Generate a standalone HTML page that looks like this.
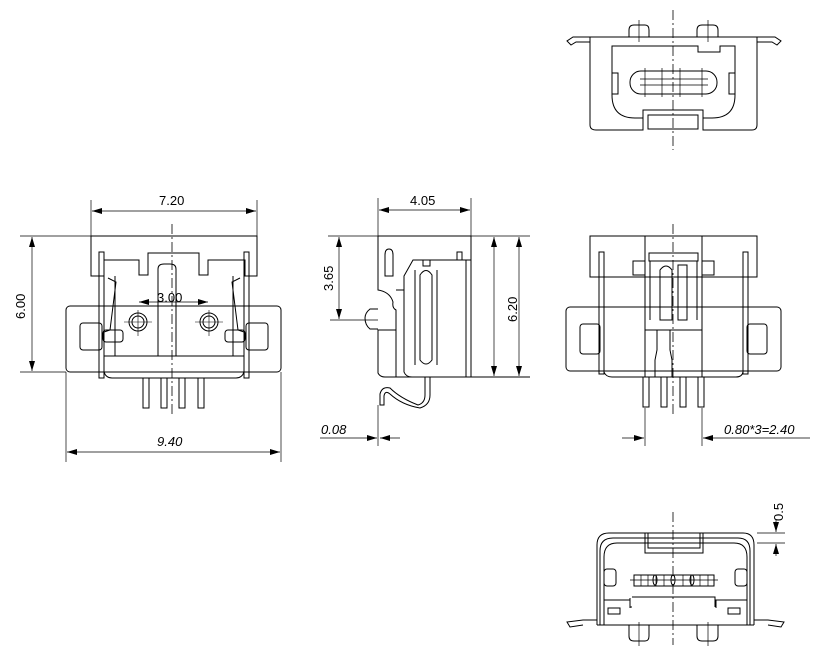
<!DOCTYPE html>
<html><head><meta charset="utf-8"><style>
html,body{margin:0;padding:0;background:#fff;}
svg{display:block}
text{font-family:"Liberation Sans",sans-serif;font-size:13px;fill:#000}
</style></head><body>
<svg width="833" height="650" viewBox="0 0 833 650" xmlns="http://www.w3.org/2000/svg">
<defs>
<marker id="a" viewBox="0 0 10 6" refX="10" refY="3" markerWidth="10" markerHeight="6" orient="auto-start-reverse" markerUnits="userSpaceOnUse"><path d="M0,0 L10,3 L0,6 z" fill="#000"/></marker>
</defs>
<g fill="none" stroke="#000" stroke-width="1">
<!-- ===== FRONT VIEW ===== -->
<line x1="172" y1="224" x2="172" y2="414" stroke-dasharray="10,3,2,3" stroke-width="0.8"/>
<path d="M91,236 H257 V276 H245 V260 H208 V275 H199 V253 H148 V275 H139 V260 H104 V276 H91 Z"/>
<rect x="66" y="306" width="215" height="66" rx="4"/>
<rect x="80" y="323" width="22" height="27" rx="3"/>
<rect x="246" y="323" width="22" height="27" rx="3"/>
<rect x="99" y="252" width="5" height="126"/>
<rect x="244" y="252" width="5" height="126"/>
<path d="M104,276 V372 Q106,378 112,378 H236 Q242,378 244,372 V276"/>
<line x1="104" y1="356" x2="244" y2="356"/>
<line x1="115" y1="276" x2="115" y2="356"/>
<line x1="233" y1="276" x2="233" y2="356"/>
<path d="M108,278 L116,282 L110,330 L104,332"/>
<path d="M240,278 L232,282 L238,330 L244,332"/>
<rect x="103" y="330" width="20" height="12" rx="3"/>
<rect x="225" y="330" width="20" height="12" rx="3"/>
<path d="M158,356 V269 Q158,264 164,264 H170 Q176,264 176,269 V356"/>
<circle cx="138" cy="322" r="9"/><circle cx="138" cy="322" r="6"/>
<circle cx="209" cy="322" r="9"/><circle cx="209" cy="322" r="6"/>
<line x1="124" y1="322" x2="152" y2="322" stroke-width="0.6"/>
<line x1="138" y1="310" x2="138" y2="336" stroke-width="0.6"/>
<line x1="195" y1="322" x2="223" y2="322" stroke-width="0.6"/>
<line x1="209" y1="310" x2="209" y2="336" stroke-width="0.6"/>
<rect x="143" y="378" width="6" height="30"/>
<rect x="161" y="378" width="6" height="30"/>
<rect x="179" y="378" width="6" height="30"/>
<rect x="198" y="378" width="6" height="30"/>
<!-- dims front -->
<line x1="91" y1="200" x2="91" y2="236" stroke-width="0.7"/>
<line x1="257" y1="200" x2="257" y2="236" stroke-width="0.7"/>
<line x1="92" y1="211" x2="256" y2="211" marker-start="url(#a)" marker-end="url(#a)" stroke-width="0.7"/>
<line x1="20" y1="236" x2="91" y2="236" stroke-width="0.7"/>
<line x1="20" y1="372" x2="66" y2="372" stroke-width="0.7"/>
<line x1="32" y1="237" x2="32" y2="371" marker-start="url(#a)" marker-end="url(#a)" stroke-width="0.7"/>
<line x1="66" y1="372" x2="66" y2="462" stroke-width="0.7"/>
<line x1="281" y1="372" x2="281" y2="462" stroke-width="0.7"/>
<line x1="67" y1="452" x2="280" y2="452" marker-start="url(#a)" marker-end="url(#a)" stroke-width="0.7"/>
<line x1="139" y1="302" x2="208" y2="302" marker-start="url(#a)" marker-end="url(#a)" stroke-width="0.7"/>
<!-- ===== SIDE VIEW ===== -->
<path d="M378,236 H471 V260 H413 L404,276 V290 H396"/>
<rect x="457" y="252" width="5" height="8"/>
<path d="M378,236 V290 Q390,292 393,302 Q392,308 396,310 V330 H378 V373 Q380,377 385,377 H400"/>
<path d="M396,310 V377"/>
<path d="M404,290 V372 Q406,377 412,377 H466 V260"/>
<line x1="471" y1="260" x2="471" y2="377"/>
<line x1="400" y1="377" x2="530" y2="377"/>
<path d="M385,255 Q385,249 389,249 Q393,249 393,255 V276 H385 Z"/>
<path d="M378,309 H370 Q365,313 365,318 Q365,325 370,329 H378"/>
<path d="M415,270 V365 M437,270 V365 M420,275 V360 Q426,368 432,360 V275 Q426,266 420,275 Z"/>
<path d="M423,260 H430 V266 H423 Z"/>
<path d="M425,377 V395 Q425,403 418,405 Q400,398 390,388 Q382,386 380,394 V405 H384 V396 Q385,390 390,394 Q402,405 420,408 Q430,405 430,395 V377"/>
<!-- dims side -->
<line x1="378" y1="198" x2="378" y2="236" stroke-width="0.7"/>
<line x1="471" y1="198" x2="471" y2="236" stroke-width="0.7"/>
<line x1="379" y1="210" x2="470" y2="210" marker-start="url(#a)" marker-end="url(#a)" stroke-width="0.7"/>
<line x1="328" y1="236" x2="378" y2="236" stroke-width="0.7"/>
<line x1="471" y1="236" x2="530" y2="236" stroke-width="0.7"/>
<line x1="330" y1="320" x2="378" y2="320" stroke-width="0.7"/>
<line x1="339" y1="237" x2="339" y2="319" marker-start="url(#a)" marker-end="url(#a)" stroke-width="0.7"/>
<line x1="494" y1="237" x2="494" y2="376" marker-start="url(#a)" marker-end="url(#a)" stroke-width="0.7"/>
<line x1="519" y1="237" x2="519" y2="376" marker-start="url(#a)" marker-end="url(#a)" stroke-width="0.7"/>
<line x1="378" y1="405" x2="378" y2="446" stroke-width="0.7"/>
<line x1="320" y1="438" x2="377" y2="438" marker-end="url(#a)" stroke-width="0.7"/>
<line x1="400" y1="438" x2="380" y2="438" marker-end="url(#a)" stroke-width="0.7"/>
<!-- ===== RIGHT VIEW ===== -->
<line x1="673" y1="224" x2="673" y2="414" stroke-dasharray="10,3,2,3" stroke-width="0.8"/>
<rect x="590" y="236" width="167" height="41"/>
<rect x="566" y="307" width="215" height="64" rx="4"/>
<rect x="580" y="324" width="20" height="30" rx="3"/>
<rect x="747" y="324" width="20" height="30" rx="3"/>
<rect x="599" y="252" width="5" height="122"/>
<rect x="743" y="252" width="5" height="122"/>
<path d="M604,260 V372 Q606,377 612,377 H736 Q742,377 743,372 V260"/>
<line x1="645" y1="236" x2="645" y2="377"/>
<line x1="702" y1="236" x2="702" y2="377"/>
<line x1="645" y1="330" x2="702" y2="330"/>
<rect x="649" y="253" width="49" height="8"/>
<rect x="633" y="261" width="12" height="14"/><rect x="702" y="261" width="12" height="14"/>
<path d="M650,261 V320 M697,261 V320 M660,320 V270 Q666,262 672,270 V320 Z M678,265 V320 H687 V265 Z"/>
<path d="M657,330 V350 L655,360 V377 M670,330 V350 L672,360 V377"/>
<rect x="643" y="377" width="6" height="30"/>
<rect x="661" y="377" width="6" height="30"/>
<rect x="680" y="377" width="6" height="30"/>
<rect x="698" y="377" width="6" height="30"/>
<line x1="645" y1="408" x2="645" y2="446" stroke-width="0.7"/>
<line x1="702" y1="408" x2="702" y2="446" stroke-width="0.7"/>
<line x1="622" y1="438" x2="644" y2="438" marker-end="url(#a)" stroke-width="0.7"/>
<line x1="810" y1="438" x2="703" y2="438" marker-end="url(#a)" stroke-width="0.7"/>
<!-- ===== TOP VIEW ===== -->
<line x1="673" y1="10" x2="673" y2="150" stroke-dasharray="10,3,2,3" stroke-width="0.8"/>
<path d="M590,37 V125 Q590,130 596,130 H643 V110 H703 V130 H752 Q757,130 757,125 V37 Z"/>
<path d="M643,118 H635 Q612,118 612,95 V46 H698 V52 H720 V46 H735 V95 Q735,118 712,118 H703"/>
<rect x="648" y="115" width="50" height="14"/>
<path d="M629,37 V30 Q629,25 634,25 H645 Q649,25 649,30 V37 M697,37 V30 Q697,25 702,25 H713 Q718,25 718,30 V37"/>
<line x1="639" y1="20" x2="639" y2="42" stroke-width="0.7"/>
<line x1="708" y1="20" x2="708" y2="42" stroke-width="0.7"/>
<path d="M590,37 H573 L567,41 L571,45 L576,42 H590 M757,37 H775 L781,41 L777,45 L772,42 H757"/>
<rect x="630" y="71" width="87" height="23" rx="11"/>
<path d="M612,73 H618 V94 H612 M735,73 H729 V94 H735"/>
<g stroke-width="0.7">
<path d="M645,68 V97 M662,68 V97 M680,68 V97 M702,68 V97 M640,79 H708 M640,85 H708"/>
</g>
<!-- ===== BOTTOM VIEW ===== -->
<line x1="673" y1="512" x2="673" y2="645" stroke-dasharray="10,3,2,3" stroke-width="0.8"/>
<path d="M597,625 V545 Q597,533 609,533 H743 Q754,533 754,545 V625"/>
<path d="M600,625 V551 Q600,538 613,538 H738 Q750,538 750,551 V625"/>
<path d="M604,625 V557 Q604,543 617,543 H734 Q747,543 747,557 V625"/>
<path d="M645,533 V553 H703 V533 M648,533 V548 H700 V533"/>
<path d="M604,600 H630 V608 M747,600 H716 V608 M630,598 V607 H632 M632,597 H715 V607"/>
<line x1="597" y1="625" x2="754" y2="625"/>
<path d="M597,620 H583 L567,622 L570,627 L583,625 M754,620 H768 L784,622 L781,627 L768,625"/>
<rect x="604" y="569" width="12" height="17" rx="3"/>
<rect x="735" y="569" width="12" height="17" rx="3"/>
<rect x="634" y="575" width="80" height="11"/>
<g stroke-width="0.7"><path d="M630,580 H718 M641,575 V586 M648,575 V586 M656,575 V586 M664,575 V586 M683,575 V586 M691,575 V586 M700,575 V586 M708,575 V586"/></g>
<ellipse cx="655" cy="580" rx="2" ry="5"/><ellipse cx="673" cy="580" rx="2" ry="5"/><ellipse cx="692" cy="580" rx="2" ry="5"/>
<rect x="608" y="608" width="12" height="6"/><rect x="728" y="608" width="12" height="6"/>
<path d="M629,625 V636 Q629,641 634,641 H645 Q649,641 649,636 V625 M697,625 V636 Q697,641 702,641 H713 Q718,641 718,636 V625"/>
<line x1="639" y1="622" x2="639" y2="646" stroke-width="0.7"/>
<line x1="708" y1="622" x2="708" y2="646" stroke-width="0.7"/>
<line x1="757" y1="533" x2="785" y2="533" stroke-width="0.7"/>
<line x1="757" y1="543" x2="785" y2="543" stroke-width="0.7"/>
<line x1="776" y1="520" x2="776" y2="532" marker-end="url(#a)" stroke-width="0.7"/>
<line x1="776" y1="556" x2="776" y2="544" marker-end="url(#a)" stroke-width="0.7"/>
</g>
<!-- labels -->
<text x="159" y="205" font-size="15">7.20</text>
<text x="0" y="0" font-size="15" transform="translate(25,319) rotate(-90)">6.00</text>
<text x="157" y="302" font-size="15">3.00</text>
<text x="157" y="446" font-size="15" font-style="italic">9.40</text>
<text x="410" y="205" font-size="15">4.05</text>
<text x="0" y="0" font-size="15" transform="translate(333,291) rotate(-90)">3.65</text>
<text x="0" y="0" font-size="15" transform="translate(517,322) rotate(-90)">6.20</text>
<text x="321" y="434" font-size="15" font-style="italic">0.08</text>
<text x="724" y="434" font-size="15" font-style="italic">0.80*3=2.40</text>
<text x="0" y="0" font-size="14" transform="translate(783,521) rotate(-90)">0.5</text>
</svg>
</body></html>
